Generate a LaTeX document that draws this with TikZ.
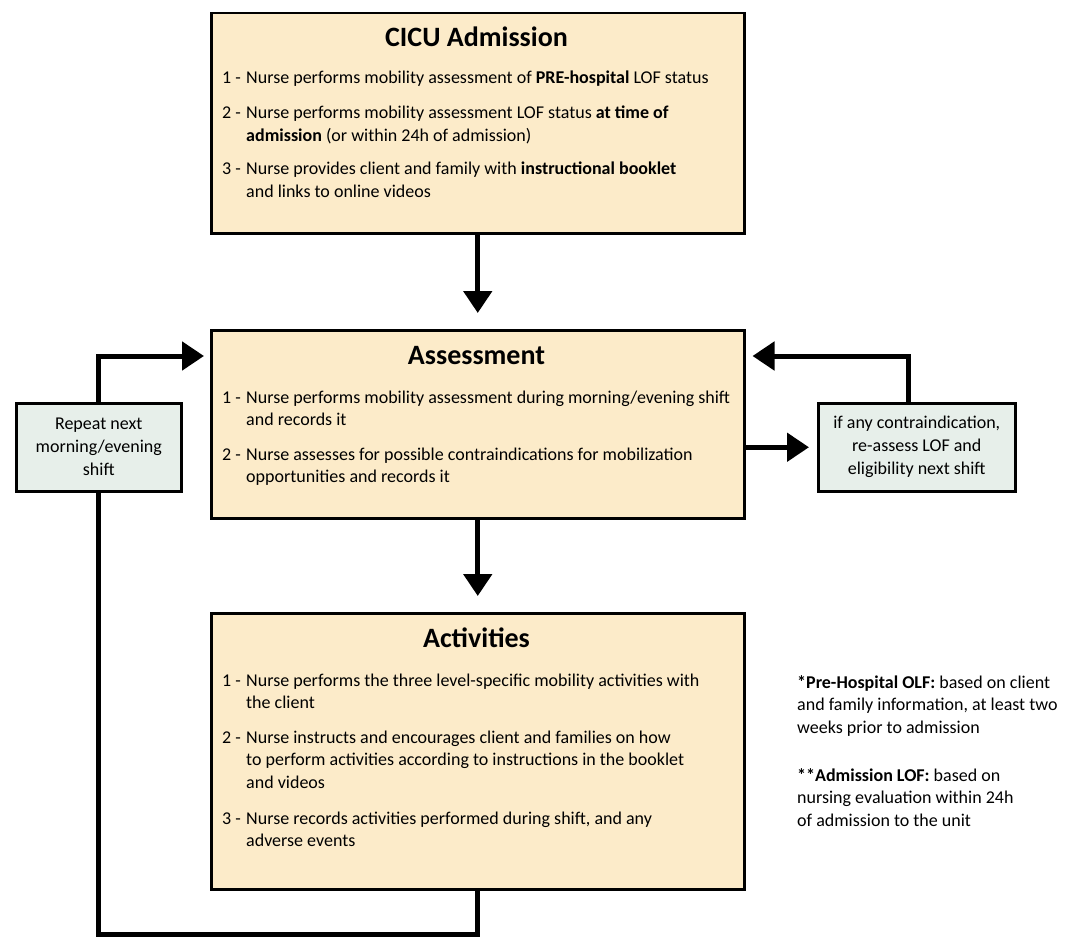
\documentclass[tikz,border=0pt]{standalone}
\usepackage{fontspec}
\setmainfont{Carlito}
\usetikzlibrary{arrows.meta,calc}
\definecolor{boxtan}{HTML}{FCEBC9}
\definecolor{sidefill}{HTML}{E7EFEA}
\newcommand\itm[2]{\begin{tabular}[t]{@{}l@{}l@{}}\makebox[24pt][l]{#1 -}&#2\end{tabular}}
\newcommand\fnote[1]{\begin{tabular}[t]{@{}l@{}}#1\end{tabular}}
\begin{document}
\begin{tikzpicture}[x=1pt,y=-1pt,
  mainbox/.style={draw=black, line width=2.5pt, fill=boxtan, inner sep=0pt, anchor=north west},
  sidebox/.style={draw=black, line width=2.5pt, fill=sidefill, inner sep=0pt, anchor=north west},
  ttl/.style={font=\fontsize{28}{30}\selectfont\bfseries, anchor=base, inner sep=0pt},
  itemtxt/.style={font=\fontsize{18}{22.5}\selectfont, anchor=base west, inner sep=0pt},
  sidetxt/.style={font=\fontsize{18}{23}\selectfont, align=center, inner sep=0pt},
  conn/.style={line width=5pt},
  arr/.style={conn, -{Triangle[width=28pt,length=22pt]}},
]
\useasboundingbox (0,0) rectangle (1075,936);
\fill[white] (0,0) rectangle (1075,936);

% main boxes
\node[mainbox, minimum width=533pt, minimum height=220pt] (adm) at (210,12) {};
\node[mainbox, minimum width=533pt, minimum height=188pt] (asm) at (210,329) {};
\node[mainbox, minimum width=533pt, minimum height=276pt] (act) at (210,612) {};
% side boxes
\node[sidebox, minimum width=165pt, minimum height=88pt] (lb) at (15,402) {};
\node[sidebox, minimum width=197pt, minimum height=88pt] (rb) at (817,402) {};

% titles
\node[ttl] (admT) at (476.5,47) {CICU Admission};
\node[ttl] (asmT) at (476.5,364) {Assessment};
\node[ttl] (actT) at (476.5,647) {Activities};

% CICU admission items
\node[itemtxt] (adm1) at (222,84) {\itm{1}{Nurse performs mobility assessment of \textbf{PRE-hospital} LOF status}};
\node[itemtxt] (adm2) at (222,119) {\itm{2}{Nurse performs mobility assessment LOF status \textbf{at time of}\\ & \textbf{admission} (or within 24h of admission)}};
\node[itemtxt] (adm3) at (222,175) {\itm{3}{Nurse provides client and family with \textbf{instructional booklet}\\ & and links to online videos}};

% Assessment items
\node[itemtxt] (asm1) at (222,403) {\itm{1}{Nurse performs mobility assessment during morning/evening shift\\ & and records it}};
\node[itemtxt] (asm2) at (222,460) {\itm{2}{Nurse assesses for possible contraindications for mobilization\\ & opportunities and records it}};

% Activities items
\node[itemtxt] (act1) at (222,686) {\itm{1}{Nurse performs the three level-specific mobility activities with\\ & the client}};
\node[itemtxt] (act2) at (222,743) {\itm{2}{Nurse instructs and encourages client and families on how\\ & to perform activities according to instructions in the booklet\\ & and videos}};
\node[itemtxt] (act3) at (222,824) {\itm{3}{Nurse records activities performed during shift, and any\\ & adverse events}};

% side box texts
\node[sidetxt] (lbT) at (lb.center) {Repeat next\\morning/evening\\shift};
\node[sidetxt] (rbT) at (rb.center) {if any contraindication,\\re-assess LOF and\\eligibility next shift};

% footnotes (clipped at the right edge as in the source)
\begin{scope}
\clip (780,660) rectangle (1062,850);
\node[itemtxt] (fn1) at (797,688) {\fnote{\textbf{*Pre-Hospital OLF:} based on client\\and family information, at least two\\weeks prior to admission}};
\node[itemtxt] (fn2) at (797,781) {\fnote{\textbf{**Admission LOF:} based on\\nursing evaluation within 24h\\of admission to the unit}};
\end{scope}

% connectors
\draw[arr, shorten >=16pt] (adm.south) -- (asm.north);
\draw[arr, shorten >=16pt] (asm.south) -- (act.north);
\draw[arr, shorten >=8pt] (asm.east |- rb.center) -- (rb.west);
\coordinate (asmR) at ($(asm.north east)+(0,27)$);
\coordinate (asmL) at ($(asm.north west)+(0,27)$);
\draw[arr, shorten >=7pt] ($(rb.north)+(-8,0)$) |- (asmR);
\draw[arr, shorten >=6pt] (lb.north) |- (asmL);
\draw[conn] (act.south) -- ++(0,44) -| (lb.south);
\end{tikzpicture}
\end{document}
